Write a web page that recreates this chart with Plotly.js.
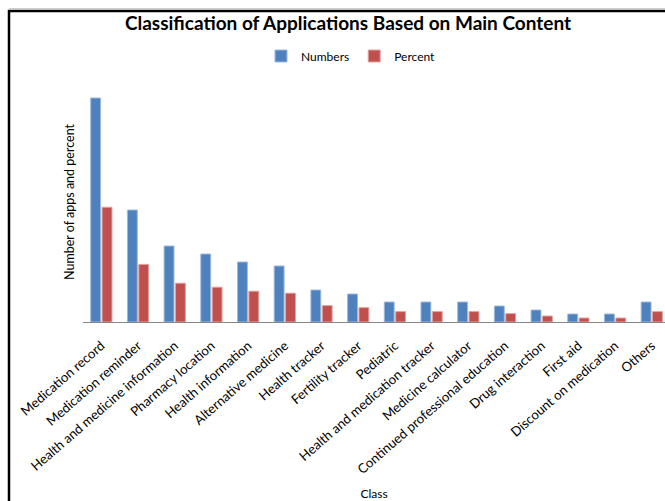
<!DOCTYPE html>
<html>
<head>
<meta charset="utf-8">
<script src="https://cdn.plot.ly/plotly-3.0.1.min.js"></script>
<style>
html,body{margin:0;padding:0;background:#fff;}
#chart{width:665px;height:501px;}
</style>
</head>
<body>
<div id="chart"></div>
<script>
var categories = [
  "Medication record", "Medication reminder", "Health and medicine information",
  "Pharmacy location", "Health information", "Alternative medicine",
  "Health tracker", "Fertility tracker", "Pediatric",
  "Health and medication tracker", "Medicine calculator",
  "Continued professional education", "Drug interaction", "First aid",
  "Discount on medication", "Others"
];
var numbers = [56, 28, 19, 17, 15, 14, 8, 7, 5, 5, 5, 4, 3, 2, 2, 5];
var percent = [28.7, 14.4, 9.7, 8.7, 7.7, 7.2, 4.1, 3.6, 2.6, 2.6, 2.6, 2.1, 1.5, 1.0, 1.0, 2.6];

var fontFam = "Lato, 'Open Sans', sans-serif";

var traces = [
  {type: "bar", name: "Numbers", x: categories, y: numbers,
   marker: {color: "#4F81BD", line: {color: "#9DB9DE", width: 1}}, hoverinfo: "none"},
  {type: "bar", name: "Percent", x: categories, y: percent,
   marker: {color: "#C0504D", line: {color: "#E3A3A1", width: 1}}, hoverinfo: "none"}
];

// plot area: x 83..665, y 82..322
var L = 83, R = 665, T = 82, B = 322;
function px(x){ return (x - L) / (R - L); }
function py(y){ return (B - y) / (B - T); }

var layout = {
  width: 665, height: 501,
  margin: {l: L, r: 0, t: T, b: 501 - B, pad: 0},
  paper_bgcolor: "#ffffff", plot_bgcolor: "#ffffff",
  font: {family: fontFam, color: "#000000", size: 12},
  title: {text: "Classification of Applications Based on Main Content",
          font: {family: fontFam, size: 19, color: "#000000", weight: "bold"},
          x: px(348), xref: "paper", xanchor: "center",
          y: 1 - 23/501, yref: "container", yanchor: "middle"},
  showlegend: true,
  legend: {orientation: "h", x: px(351), xanchor: "center", y: py(56), yanchor: "middle",
           font: {family: fontFam, size: 12}, itemwidth: 30, traceorder: "normal"},
  barmode: "group",
  bargap: 0.38,
  bargroupgap: 0.13,
  xaxis: {
    type: "category",
    range: [-0.5, 15.36],
    showgrid: false, zeroline: false,
    showline: true, linecolor: "#868686", linewidth: 1,
    ticks: "", tickangle: -41, ticklabelstandoff: 10,
    tickfont: {family: fontFam, size: 13.2, color: "#000"},
    title: {text: "Class", font: {family: fontFam, size: 12, color: "#000"}, standoff: 17},
    automargin: false, fixedrange: true
  },
  yaxis: {
    range: [0, 60],
    showgrid: false, zeroline: false, showline: false,
    showticklabels: false, ticks: "",
    title: {text: "Number of apps and percent", font: {family: fontFam, size: 12.5, color: "#000"}, standoff: 4},
    automargin: false, fixedrange: true
  },
  shapes: [
    {type: "path", xref: "paper", yref: "paper",
     path: "M " + px(9) + " " + py(520) + " L " + px(9) + " " + py(11) + " L " + px(700) + " " + py(11),
     line: {color: "#000000", width: 2.5}, layer: "above"},
    {type: "line", xref: "paper", yref: "paper",
     x0: px(9), x1: px(700), y0: py(8.5), y1: py(8.5),
     line: {color: "#cfcfcf", width: 1}}
  ]
};

Plotly.newPlot("chart", traces, layout, {displayModeBar: false, staticPlot: true});
</script>
</body>
</html>
